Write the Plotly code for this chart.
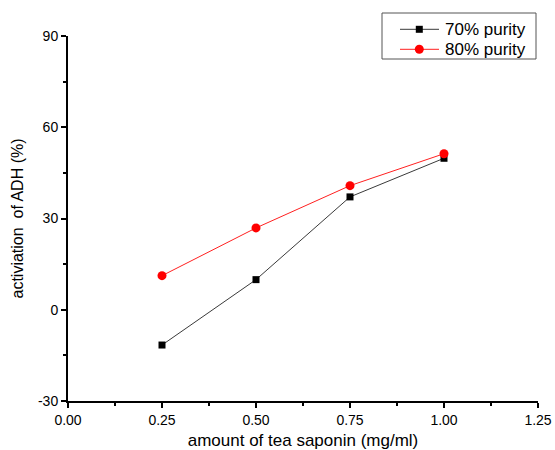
import plotly.graph_objects as go

dose = [0.25, 0.50, 0.75, 1.00]
purity70 = [-11.6, 9.9, 37.1, 49.8]
purity80 = [11.2, 26.9, 40.8, 51.3]
series_names = ["70% purity", "80% purity"]
x_ticks = [0.00, 0.25, 0.50, 0.75, 1.00, 1.25]
y_ticks = [-30, 0, 30, 60, 90]

FONT = "Liberation Sans, Arial, sans-serif"
COL70 = "#3a3a3a"
COL80 = "#ff2020"

W, H = 555, 450
L, T, R, B = 68, 36, 17, 49
PW, PH = W - L - R, H - T - B


def px(fx):
    return (fx - L) / PW


def py(fy):
    return (T + PH - fy) / PH


fig = go.Figure()
fig.add_trace(go.Scatter(
    x=dose, y=purity70, name=series_names[0], mode="lines+markers",
    line=dict(color=COL70, width=1),
    marker=dict(symbol="square", size=7, color="black"),
    showlegend=False,
))
fig.add_trace(go.Scatter(
    x=dose, y=purity80, name=series_names[1], mode="lines+markers",
    line=dict(color=COL80, width=1),
    marker=dict(symbol="circle", size=9, color="#ff0000"),
    showlegend=False,
))

# legend box drawn in layout (pixel) coordinates
shapes = [
    dict(type="rect", xref="paper", yref="paper",
         x0=px(382), x1=px(536), y0=py(13), y1=py(59),
         line=dict(color="#555555", width=1), fillcolor="white"),
]
annotations = []
rows = [(29.3, COL70, "square", "black"), (49.3, COL80, "circle", "#ff0000")]
for (ry, lc, sym, mc), name in zip(rows, series_names):
    shapes.append(dict(type="line", xref="paper", yref="paper",
                       x0=px(400), x1=px(439), y0=py(ry), y1=py(ry),
                       line=dict(color=lc, width=1)))
    if sym == "square":
        shapes.append(dict(type="rect", xref="paper", yref="paper",
                           x0=px(419.3 - 3.5), x1=px(419.3 + 3.5),
                           y0=py(ry + 3.5), y1=py(ry - 3.5),
                           line=dict(width=0), fillcolor=mc))
    else:
        shapes.append(dict(type="circle", xref="paper", yref="paper",
                           x0=px(419.3 - 4.5), x1=px(419.3 + 4.5),
                           y0=py(ry + 4.5), y1=py(ry - 4.5),
                           line=dict(width=0), fillcolor=mc))
    annotations.append(dict(xref="paper", yref="paper", x=px(443), y=py(ry),
                            xanchor="left", yanchor="middle", showarrow=False,
                            text=name, font=dict(size=17, family=FONT, color="black")))

fig.update_layout(
    width=W, height=H,
    margin=dict(l=L, r=R, t=T, b=B, autoexpand=False),
    plot_bgcolor="white", paper_bgcolor="white",
    font=dict(family=FONT, size=14, color="black"),
    showlegend=False,
    shapes=shapes,
    annotations=annotations,
)

fig.update_xaxes(
    range=[0, 1.25], tickvals=x_ticks,
    ticktext=[f"{v:.2f}" for v in x_ticks],
    showline=True, linecolor="black", linewidth=2,
    ticks="outside", ticklen=5, tickwidth=2, tickcolor="black",
    minor=dict(ticks="outside", ticklen=3, tickwidth=2, tickcolor="black", dtick=0.125),
    showgrid=False, zeroline=False, automargin=False,
    tickfont=dict(size=14, family=FONT),
    title=dict(text="amount of tea saponin (mg/ml)", font=dict(size=17, family=FONT), standoff=13),
)
fig.update_yaxes(
    range=[-30, 90], tickvals=y_ticks,
    ticktext=[str(v) for v in y_ticks],
    showline=True, linecolor="black", linewidth=2,
    ticks="outside", ticklen=5, tickwidth=2, tickcolor="black",
    minor=dict(ticks="outside", ticklen=3, tickwidth=2, tickcolor="black", dtick=15),
    showgrid=False, zeroline=False, automargin=False,
    tickfont=dict(size=14, family=FONT),
    title=dict(text="activiation  of ADH (%)", font=dict(size=16, family=FONT), standoff=10),
)

fig.write_html(
    "out.html",
    config={"displayModeBar": False},
    post_script="document.body.style.margin='0';document.body.style.overflow='hidden';",
)
